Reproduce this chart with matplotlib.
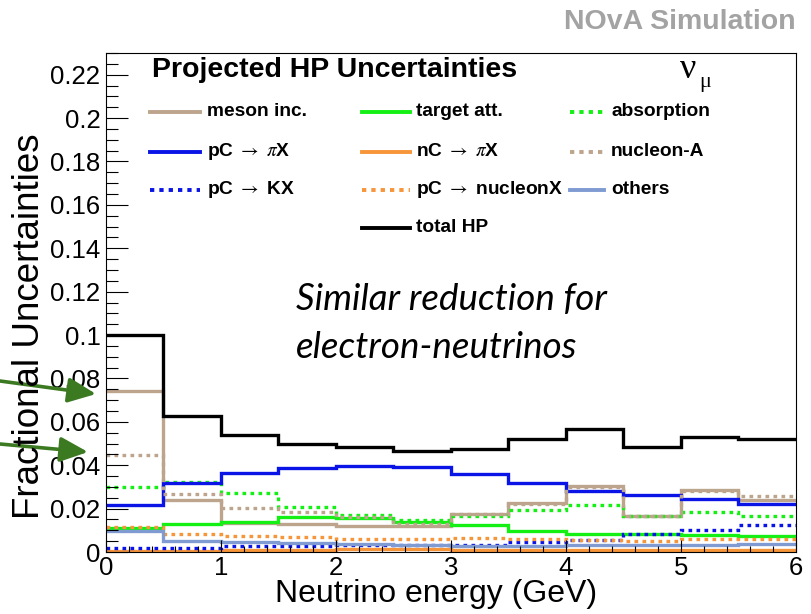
import matplotlib
matplotlib.use("Agg")
import matplotlib.pyplot as plt
from matplotlib.patches import FancyArrowPatch
from matplotlib.ticker import MultipleLocator

plt.rcParams['font.family'] = ['Liberation Sans', 'DejaVu Sans']
plt.rcParams['mathtext.fontset'] = 'stix'

# 0.5 GeV bins from 0 to 6 GeV
bin_edges = [0.0, 0.5, 1.0, 1.5, 2.0, 2.5, 3.0, 3.5, 4.0, 4.5, 5.0, 5.5, 6.0]

meson_inc = [0.074, 0.0239, 0.0135, 0.0131, 0.0119, 0.0118, 0.0177, 0.0226, 0.0303, 0.0166, 0.0285, 0.0239]
target_att = [0.011, 0.0131, 0.0138, 0.0162, 0.0157, 0.0140, 0.0125, 0.0096, 0.0085, 0.0082, 0.0077, 0.0074]
absorption = [0.0301, 0.0323, 0.0272, 0.0208, 0.0172, 0.0148, 0.0165, 0.0192, 0.0215, 0.0166, 0.0185, 0.0166]
pC_piX = [0.0215, 0.0316, 0.0362, 0.0385, 0.0396, 0.0390, 0.0359, 0.0316, 0.0282, 0.0262, 0.0242, 0.0223]
nC_piX = [0.0005, 0.0005, 0.0007, 0.0008, 0.0012, 0.0014, 0.0010, 0.0010, 0.0008, 0.0008, 0.0007, 0.0007]
nucleon_A = [0.0446, 0.0266, 0.0205, 0.0183, 0.0160, 0.0130, 0.0175, 0.0222, 0.0298, 0.0168, 0.0282, 0.0257]
pC_KX = [0.0020, 0.0020, 0.0026, 0.0028, 0.0030, 0.0030, 0.0030, 0.0046, 0.0057, 0.0085, 0.0100, 0.0123]
pC_nucleonX = [0.0115, 0.0085, 0.0074, 0.0069, 0.0062, 0.0058, 0.0066, 0.0062, 0.0055, 0.0052, 0.0060, 0.0062]
others = [0.0095, 0.0050, 0.0046, 0.0042, 0.0035, 0.0031, 0.0028, 0.0028, 0.0034, 0.0033, 0.0030, 0.0035]
total_hp = [0.1000, 0.0626, 0.0538, 0.0497, 0.0482, 0.0466, 0.0477, 0.0520, 0.0569, 0.0485, 0.0528, 0.0519]

y_ticks = [0, 0.02, 0.04, 0.06, 0.08, 0.1, 0.12, 0.14, 0.16, 0.18, 0.2, 0.22]
y_ticklabels = ['0', '0.02', '0.04', '0.06', '0.08', '0.1', '0.12', '0.14',
                '0.16', '0.18', '0.2', '0.22']

tan = '#bda48c'
blue = '#0a14e6'
green = '#14f014'
orange = '#f7953a'
lightblue = '#7f9bd2'
dot = (0, (1.1, 1.3))

# (label, values, colour, linestyle, legend row, legend column)
series = [
    ('meson inc.', meson_inc, tan, '-', 0, 0),
    ('target att.', target_att, green, '-', 0, 1),
    ('absorption', absorption, green, dot, 0, 2),
    ('pC $\\rightarrow$ $\\pi$X', pC_piX, blue, '-', 1, 0),
    ('nC $\\rightarrow$ $\\pi$X', nC_piX, orange, '-', 1, 1),
    ('nucleon-A', nucleon_A, tan, dot, 1, 2),
    ('pC $\\rightarrow$ KX', pC_KX, blue, dot, 2, 0),
    ('pC $\\rightarrow$ nucleonX', pC_nucleonX, orange, dot, 2, 1),
    ('others', others, lightblue, '-', 2, 2),
    ('total HP', total_hp, 'black', '-', 3, 1),
]

fig = plt.figure(figsize=(8.12, 6.14), dpi=100)
W, H = 812, 614
ax = fig.add_axes([106 / W, (H - 552) / H, 690 / W, 499 / H])

for name, vals, col, ls, r, c in series:
    ax.stairs(vals, bin_edges, color=col, linestyle=ls, linewidth=2.4, baseline=None)

ax.set_xlim(0, 6)
ax.set_ylim(0, 0.23)
ax.xaxis.set_major_locator(MultipleLocator(1))
ax.xaxis.set_minor_locator(MultipleLocator(0.2))
ax.yaxis.set_minor_locator(MultipleLocator(0.005))
ax.set_yticks(y_ticks)
ax.set_yticklabels(y_ticklabels)
ax.tick_params(axis='both', which='both', direction='in', labelsize=18.5, width=0.8)
ax.tick_params(axis='y', which='major', length=16, pad=4)
ax.tick_params(axis='y', which='minor', length=8.5)
ax.tick_params(axis='x', which='major', length=9, pad=3)
ax.tick_params(axis='x', which='minor', length=4)
for sp in ax.spines.values():
    sp.set_linewidth(0.8)

fig.text(436 / W, 1 - 594 / H, 'Neutrino energy (GeV)', fontsize=23,
         ha='center', va='center')
fig.text(30 / W, 1 - 326 / H, 'Fractional Uncertainties', fontsize=26.5,
         rotation=90, ha='center', va='center')

# legend drawn by hand in ROOT's row-wise 3-column layout
row_y = [112, 152, 190, 228]
col_x = [(150, 200, 207), (362, 410, 416), (570, 604, 611)]
for name, vals, col, ls, r, c in series:
    x0, x1, xt = col_x[c]
    yy = 1 - row_y[r] / H
    fig.add_artist(plt.Line2D([x0 / W, x1 / W], [yy, yy], color=col, linestyle=ls,
                              linewidth=2.8, transform=fig.transFigure))
    fig.text(xt / W, yy, name, fontsize=13.8, fontweight='bold', ha='left', va='center')

fig.text(152 / W, 1 - 70 / H, 'Projected HP Uncertainties', fontsize=20.5,
         fontweight='bold', ha='left', va='center')
fig.text(680 / W, 1 - 70 / H, 'ν', fontsize=26, family='Liberation Serif',
         ha='left', va='center')
fig.text(699 / W, 1 - 83 / H, 'μ', fontsize=16, family='Liberation Serif',
         ha='left', va='center')
fig.text(796 / W, 1 - 22 / H, 'NOvA Simulation', fontsize=20.5, fontweight='bold',
         color='#a3a3a3', ha='right', va='center')

fig.text(296 / W, 1 - 300 / H, 'Similar reduction for', fontsize=26.5, style='italic',
         family='Lato', ha='left', va='center')
fig.text(296 / W, 1 - 347 / H, 'electron-neutrinos', fontsize=26.5, style='italic',
         family='Lato', ha='left', va='center')

# green pointers at the first-bin meson inc. and nucleon-A values
arrow_kw = dict(arrowstyle='-|>,head_length=0.85,head_width=0.38', mutation_scale=20,
                color='#3c7a22', lw=2.6, shrinkA=0, shrinkB=0,
                transform=fig.transFigure)
fig.add_artist(FancyArrowPatch((0, 1 - 381 / H), (96 / W, 1 - 394 / H), **arrow_kw))
fig.add_artist(FancyArrowPatch((0, 1 - 444 / H), (88 / W, 1 - 452 / H), **arrow_kw))

fig.savefig('out.png', dpi=100)
